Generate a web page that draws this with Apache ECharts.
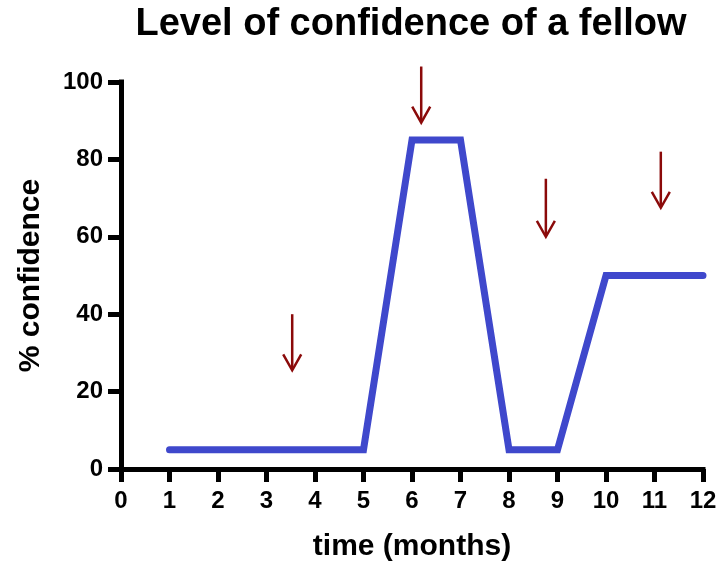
<!DOCTYPE html>
<html><head><meta charset="utf-8">
<script src="https://cdn.jsdelivr.net/npm/echarts@6/dist/echarts.min.js"></script>
<style>html,body{margin:0;padding:0;background:#fff}#c{width:720px;height:567px}</style>
</head><body><div id="c"></div>
<script>
const months = [1, 5, 6, 7, 8, 9, 10, 12];
const confidence = [5, 5, 85, 85, 5, 5, 50, 50];
// arrows: [x, yTop, yTip]
const arrowX = [3.53, 6.19, 8.76, 11.13];
const arrowTop = [40, 104, 75, 82];
const arrowTip = [25.5, 89.5, 60, 67.5];

const chart = echarts.init(document.getElementById('c'), null, {renderer: 'canvas'});
const FONT = 'Liberation Sans, Arial, sans-serif';
chart.setOption({
  animation: false,
  backgroundColor: '#fff',
  title: {
    text: 'Level of confidence of a fellow',
    left: 406, textAlign: 'center', top: 1,
    textStyle: {fontFamily: FONT, fontSize: 38, fontWeight: 'bold', color: '#000'}
  },
  grid: {left: 121, right: 17, top: 82, bottom: 98},
  xAxis: {
    type: 'value', min: 0, max: 12, interval: 1,
    name: 'time (months)', nameLocation: 'middle', nameGap: 63,
    nameTextStyle: {fontFamily: FONT, fontSize: 30, fontWeight: 'bold', color: '#000'},
    axisLine: {lineStyle: {color: '#000', width: 5, cap: 'square'}},
    axisTick: {length: 13, lineStyle: {color: '#000', width: 5}},
    axisLabel: {fontFamily: FONT, fontSize: 24, fontWeight: 'bold', color: '#000', margin: 20},
    splitLine: {show: false}
  },
  yAxis: {
    type: 'value', min: 0, max: 100, interval: 20,
    name: '% confidence', nameLocation: 'middle', nameGap: 75, nameRotate: 90,
    nameTextStyle: {fontFamily: FONT, fontSize: 30, fontWeight: 'bold', color: '#000'},
    axisLine: {show: true, lineStyle: {color: '#000', width: 5, cap: 'square'}},
    axisTick: {show: true, length: 13, lineStyle: {color: '#000', width: 5}},
    axisLabel: {fontFamily: FONT, fontSize: 24, fontWeight: 'bold', color: '#000', margin: 18},
    splitLine: {show: false}
  },
  series: [
    {
      type: 'line',
      data: months.map((m, i) => [m, confidence[i]]),
      symbol: 'none',
      lineStyle: {color: '#3f48cc', width: 7, cap: 'round', join: 'miter'},
      z: 3
    },
    {
      type: 'custom',
      data: arrowX.map((x, i) => [x, arrowTop[i], arrowTip[i]]),
      renderItem: function (params, api) {
        const top = api.coord([api.value(0), api.value(1)]);
        const tip = api.coord([api.value(0), api.value(2)]);
        const c = '#8b0a0a';
        return {
          type: 'group',
          children: [
            {type: 'line', shape: {x1: top[0], y1: top[1], x2: tip[0], y2: tip[1] - 1},
             style: {stroke: c, lineWidth: 2.5}},
            {type: 'polyline', shape: {points: [[tip[0] - 9, tip[1] - 16], [tip[0], tip[1]], [tip[0] + 9, tip[1] - 16]]},
             style: {stroke: c, lineWidth: 2.5, fill: null}}
          ]
        };
      },
      z: 4
    }
  ]
});
</script></body></html>
